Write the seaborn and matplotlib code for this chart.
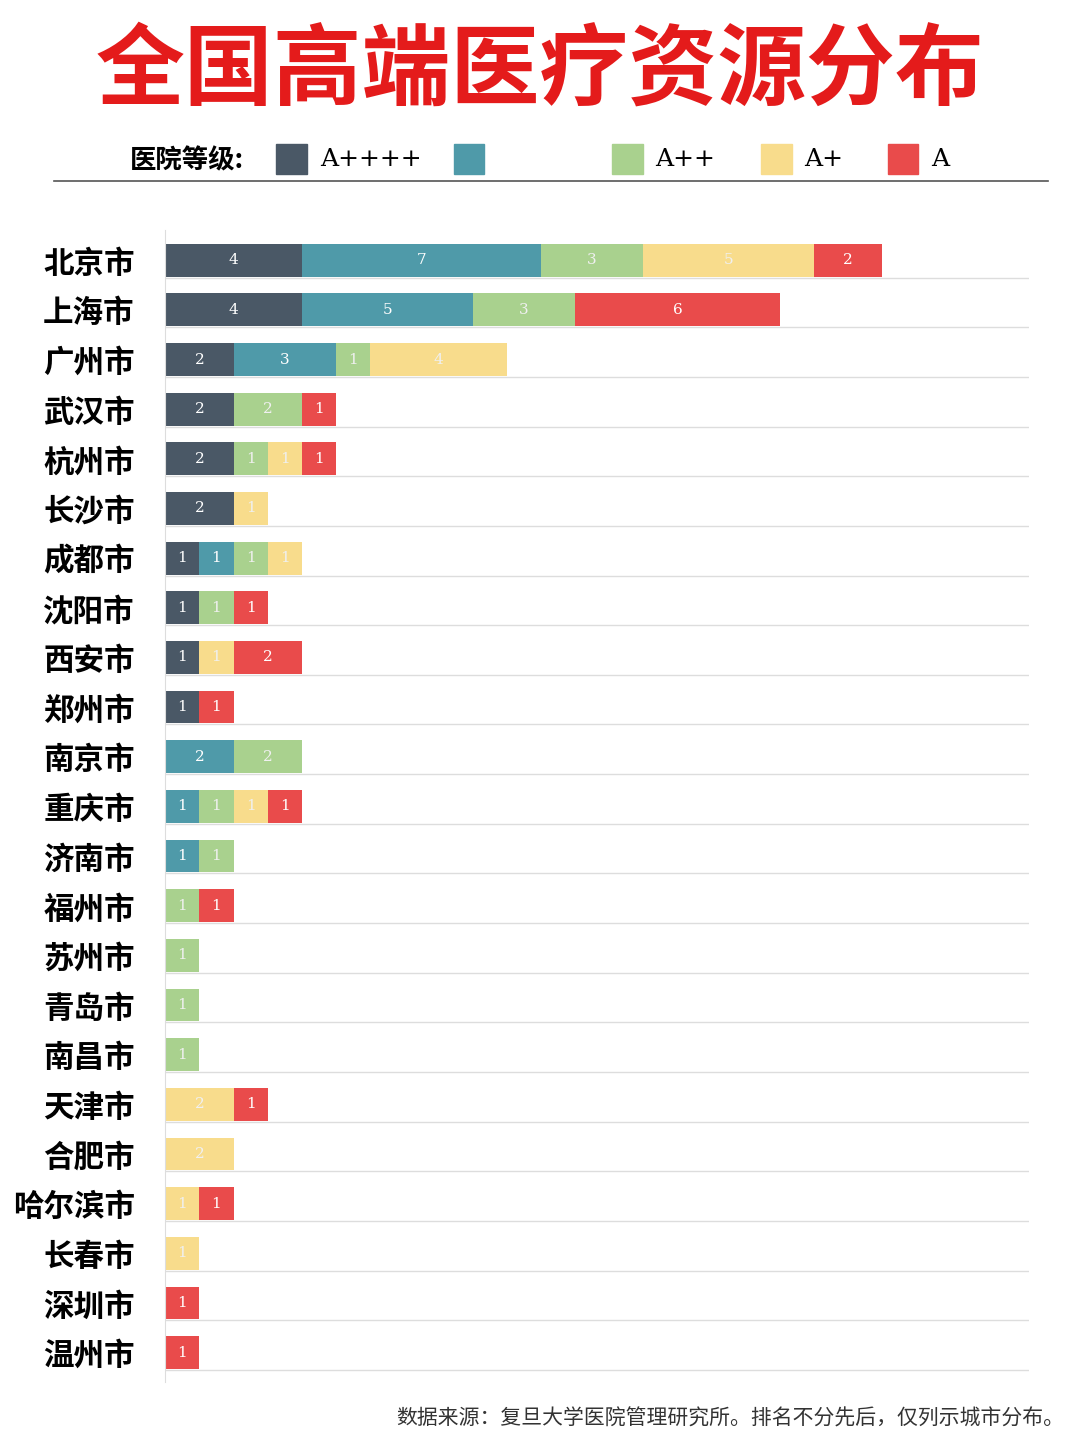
import matplotlib.pyplot as plt
import seaborn as sns
import numpy as np
import pandas as pd

cities = ['北京市', '上海市', '广州市', '武汉市', '杭州市', '长沙市', '成都市', '沈阳市',
          '西安市', '郑州市', '南京市', '重庆市', '济南市', '福州市', '苏州市', '青岛市',
          '南昌市', '天津市', '合肥市', '哈尔滨市', '长春市', '深圳市', '温州市']
grades = ['A++++', 'A+++', 'A++', 'A+', 'A']
a4 = [4, 4, 2, 2, 2, 2, 1, 1, 1, 1, 0, 0, 0, 0, 0, 0, 0, 0, 0, 0, 0, 0, 0]
a3 = [7, 5, 3, 0, 0, 0, 1, 0, 0, 0, 2, 1, 1, 0, 0, 0, 0, 0, 0, 0, 0, 0, 0]
a2 = [3, 3, 1, 2, 1, 0, 1, 1, 0, 0, 2, 1, 1, 1, 1, 1, 1, 0, 0, 0, 0, 0, 0]
a1 = [5, 0, 4, 0, 1, 1, 1, 0, 1, 0, 0, 1, 0, 0, 0, 0, 0, 2, 2, 1, 1, 0, 0]
a0 = [2, 6, 0, 1, 1, 0, 0, 1, 2, 1, 0, 1, 0, 1, 0, 0, 0, 1, 0, 1, 0, 1, 1]
colors = ['#4a5866', '#4f9aa9', '#a9d18e', '#f8dc8c', '#e94b4b']

plt.rcParams['font.family'] = ['Noto Sans CJK SC', 'DejaVu Sans']
fig = plt.figure(figsize=(10.8, 14.4), dpi=100)
ax = fig.add_axes([0.153, 0.04, 0.80, 0.80])

series = [a4, a3, a2, a1, a0]
df = pd.DataFrame(np.array(series).T, columns=grades, index=cities)
cum = df.cumsum(axis=1)
# draw from the outermost layer inward so each stacked segment shows
for i in range(len(grades) - 1, -1, -1):
    sns.barplot(x=cum[grades[i]].values, y=cities, orient='h', color=colors[i],
                width=0.66, saturation=1, ax=ax, edgecolor='none')
for r, city in enumerate(cities):
    left = 0
    for i, g in enumerate(grades):
        v = df.loc[city, g]
        if v > 0:
            tc = 'white' if i in (0, 1, 4) else '#f0f0f0'
            ax.text(left + v / 2, r, str(v), ha='center', va='center', color=tc,
                    fontsize=11, fontfamily='DejaVu Serif')
        left += v

ax.set_xlim(0, 25.3)
ax.set_ylim(len(cities) - 0.4, -0.6)
ax.set_xticks([])
ax.set_yticks(range(len(cities)))
ax.set_yticklabels(cities, fontsize=22, fontweight='bold')
ax.tick_params(axis='y', length=0, pad=22)
for r in range(len(cities)):
    ax.axhline(r + 0.35, color='#dddddd', lw=1, zorder=0)
for s in ['top', 'right', 'bottom']:
    ax.spines[s].set_visible(False)
ax.spines['left'].set_color('#dddddd')

fig.text(0.5, 0.95, '全国高端医疗资源分布', ha='center', va='center', fontsize=64,
         fontweight='bold', color='#e41b1b')
fig.text(0.12, 0.888, '医院等级:', ha='left', va='center', fontsize=19, fontweight='bold')
lx = [0.256, 0.42, 0.567, 0.705, 0.822]
for i, g in enumerate(grades):
    fig.patches.append(plt.Rectangle((lx[i], 0.879), 0.028, 0.021, color=colors[i],
                                     transform=fig.transFigure, figure=fig))
    fig.text(lx[i] + 0.04, 0.889, g if i != 1 else '', ha='left', va='center',
             fontsize=18, fontfamily='DejaVu Serif')
fig.add_artist(plt.Line2D([0.05, 0.97], [0.874, 0.874], color='#555555', lw=1.2))
fig.text(0.985, 0.015, '数据来源：复旦大学医院管理研究所。排名不分先后，仅列示城市分布。',
         ha='right', va='center', fontsize=15, color='#333333')

fig.savefig('out.png', dpi=100, facecolor='white')
